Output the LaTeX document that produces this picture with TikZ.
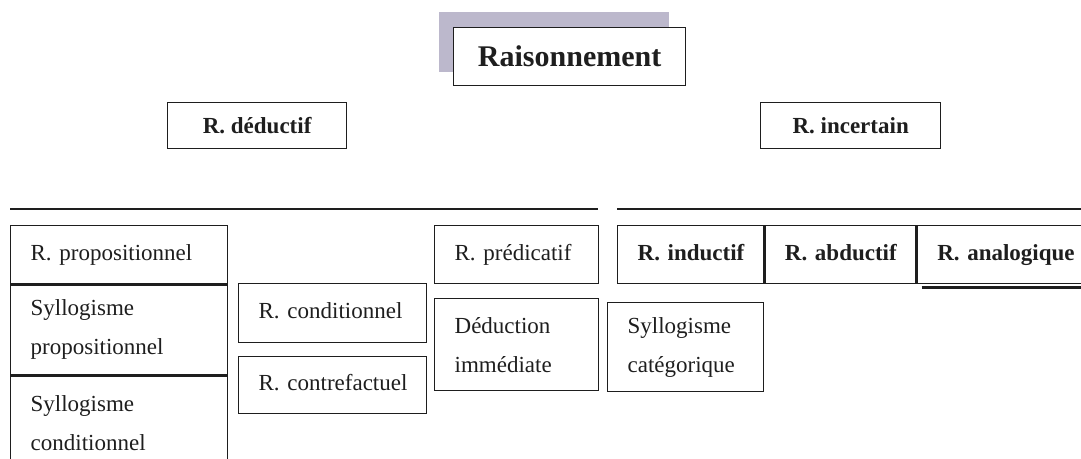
\documentclass[tikz,border=0pt]{standalone}
\usepackage{fontspec}
\setmainfont{Liberation Serif}

\definecolor{ink}{RGB}{30,30,30}
\definecolor{shadowgray}{RGB}{188,184,204}

\tikzset{
  box/.style={draw=ink, line width=1.3pt, rectangle, anchor=north west,
    inner xsep=20pt, inner ysep=0pt, align=left, text=ink,
    execute at begin node={\hyphenpenalty=10000\exhyphenpenalty=10000},
    font=\fontsize{23}{39}\selectfont},
  boldbox/.style={box, font=\bfseries\fontsize{23}{39}\selectfont},
  oneline/.style={text height=16pt, text depth=5pt},
  headbox/.style={draw=ink, line width=1.3pt, rectangle, anchor=north west,
    inner sep=0pt, align=center, text=ink, fill=white,
    font=\bfseries\fontsize{23}{28}\selectfont},
  rule/.style={draw=ink, line width=1.2pt}
}

\begin{document}
\begin{tikzpicture}[x=1pt, y=-1pt]
  \useasboundingbox (0,0) rectangle (1081,458);
  \clip (0,0) rectangle (1081,458);

  % Title with its shadow
  \fill[shadowgray] (439,12) rectangle (669,72);
  \node[headbox, minimum width=232pt, minimum height=58pt,
    font=\bfseries\fontsize{30}{34}\selectfont] (raison) at (453,27) {Raisonnement};

  % The two families
  \node[headbox, minimum width=179pt, minimum height=46pt] (deduc) at (167,102) {R.~déductif};
  \node[headbox, minimum width=180pt, minimum height=46pt] (incert) at (760,102) {R.~incertain};

  % Separating rules
  \draw[rule] (10,209) -- (598,209);
  \draw[rule] (617,209) -- (1081,209);

  % Deductive side
  \node[box, oneline, text width=177pt, minimum height=58pt] (prop) at (10,225) {R.~propositionnel};
  \node[box, text width=177pt, minimum height=90pt] (sylprop) at (prop.south west) {Syllogisme\\propositionnel};
  \node[box, text width=177pt, minimum height=94pt] (sylcond) at (sylprop.south west) {Syllogisme\\conditionnel};

  \node[box, oneline, text width=148pt, minimum height=59pt] (cond) at (238,283) {R.~conditionnel};
  \node[box, oneline, text width=148pt, minimum height=57pt] (contre) at (238,356) {R.~contrefactuel};

  \node[box, oneline, text width=124pt, minimum height=58pt] (pred) at (434,225) {R.~prédicatif};
  \node[box, text width=124pt, minimum height=92pt] (dedimm) at (434,298) {Déduction\\immédiate};

  % Uncertain side
  \node[boldbox, oneline, text width=106pt, minimum height=58pt] (ind) at (617,225) {R.~inductif};
  \foreach \prev/\name/\tw/\txt in {ind/abd/111/R.~abductif, abd/ana/160/R.~analogique} {
    \node[boldbox, oneline, text width=\tw pt, minimum height=58pt] (\name) at (\prev.north east) {\txt};
  }
  \draw[ink, line width=3.5pt] ([xshift=5pt, yshift=-3pt]ana.south west) -- ([yshift=-3pt]ana.south east);

  \node[box, text width=116pt, minimum height=89pt] (sylcat) at (607,302) {Syllogisme\\catégorique};

\end{tikzpicture}
\end{document}
